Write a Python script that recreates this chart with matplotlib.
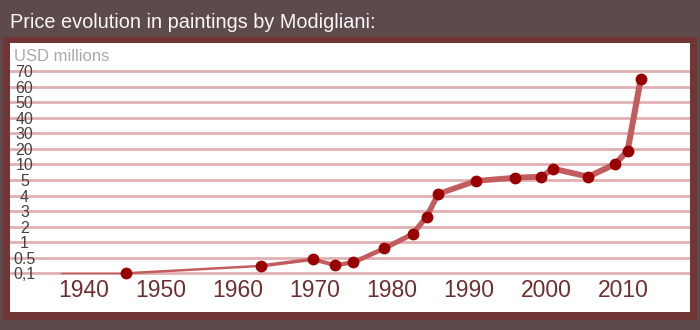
import numpy as np
import matplotlib
matplotlib.use("Agg")
import matplotlib.pyplot as plt
from matplotlib.collections import LineCollection
import matplotlib.transforms as mtrans

plt.rcParams['font.family'] = ['Liberation Sans', 'DejaVu Sans']

title = "Price evolution in paintings by Modigliani:"
unit_label = "USD millions"

y_tick_values = [0.1, 0.5, 1, 2, 3, 4, 5, 10, 20, 30, 40, 50, 60, 70]
y_tick_labels = ["0,1", "0.5", "1", "2", "3", "4", "5", "10", "20", "30", "40", "50", "60", "70"]
x_tick_years = [1940, 1950, 1960, 1970, 1980, 1990, 2000, 2010]

years = [1945.5, 1963, 1969.7, 1972.6, 1975, 1979, 1982.7, 1984.5, 1986,
         1990.9, 1996, 1999.4, 2000.9, 2005.5, 2009, 2010.6, 2012.3]
prices = [0.1, 0.29, 0.46, 0.31, 0.38, 0.8, 1.53, 2.64, 4.1,
          4.94, 5.75, 6.05, 8.65, 6.05, 10.3, 18.9, 64.8]
line_start_year = [1937]
line_start_price = [0.1]

vals = np.array(y_tick_values, float)
idx = np.arange(len(vals), dtype=float)


def fwd(v):
    v = np.asarray(v, float)
    r = np.interp(v, vals, idx)
    r = np.where(v < vals[0], (v - vals[0]) / 0.4, r)
    r = np.where(v > vals[-1], idx[-1] + (v - vals[-1]) / 10.0, r)
    return r


def inv(i):
    i = np.asarray(i, float)
    r = np.interp(i, idx, vals)
    r = np.where(i < 0, vals[0] + i * 0.4, r)
    r = np.where(i > idx[-1], vals[-1] + (i - idx[-1]) * 10.0, r)
    return r


W, H = 700, 330
fig = plt.figure(figsize=(7, 3.3), dpi=100)
fig.patch.set_facecolor('#5d4a4a')

# border frame
frame_ax = fig.add_axes([3 / W, 1 - 320 / H, 694 / W, 283 / H], zorder=-5)
frame_ax.set_facecolor('#723535')
frame_ax.set_xticks([])
frame_ax.set_yticks([])
for s in frame_ax.spines.values():
    s.set_visible(False)

ax = fig.add_axes([10 / W, 1 - 312 / H, 680 / W, 269 / H], zorder=1)
ax.set_facecolor('white')
ax.set_yscale('function', functions=(fwd, inv))
ax.set_xlim(1930.4, 2018.7)
ax.set_ylim(inv(-2.49), inv(14.81))
for s in ax.spines.values():
    s.set_visible(False)
ax.set_xticks([])
ax.set_yticks([])
ax.minorticks_off()

for v in y_tick_values:
    ax.axhline(v, color='#e0b0b2', lw=2.0, zorder=1)

ytrans = mtrans.blended_transform_factory(ax.transAxes, ax.transData) + \
    mtrans.ScaledTranslation(0, -1.5 / 100, fig.dpi_scale_trans)
for v, lab in zip(y_tick_values, y_tick_labels):
    ax.text(14.5 / 680, v, lab, transform=ytrans, ha='center', va='center',
            fontsize=11.5, color='#4a4040', zorder=3)

xtrans = mtrans.blended_transform_factory(ax.transData, ax.transAxes)
for yr in x_tick_years:
    ax.text(yr, (312 - 296.7) / 269, str(yr), transform=xtrans, ha='center',
            va='baseline', fontsize=16.5, color='#6e2f30', zorder=3)

ax.text(3.5 / 680, 1 - 17.7 / 269, unit_label, transform=ax.transAxes,
        ha='left', va='baseline', fontsize=12, color='#aaaaaa', zorder=3)

# line with growing width
lx = np.array(line_start_year + years, float)
ly = np.array(line_start_price + prices, float)
pts = np.column_stack([lx, ly])
segs = [pts[i:i + 2] for i in range(len(pts) - 1)]
mid = (lx[:-1] + lx[1:]) / 2
widths = np.interp(mid, [1937, 1965, 1985, 2013], [0.8, 2.4, 4.0, 4.4])
lc = LineCollection(segs, linewidths=widths, colors='#c25c5e',
                    capstyle='round', joinstyle='round', zorder=4)
ax.add_collection(lc)
ax.plot(years, prices, 'o', color='#990000', markersize=8.5,
        markeredgewidth=0, zorder=5)

fig.text(10 / W, 1 - 27.5 / H, title, ha='left', va='baseline',
         fontsize=14.3, color='#f8f8f8')

fig.savefig('out.png', dpi=100, facecolor=fig.get_facecolor())
